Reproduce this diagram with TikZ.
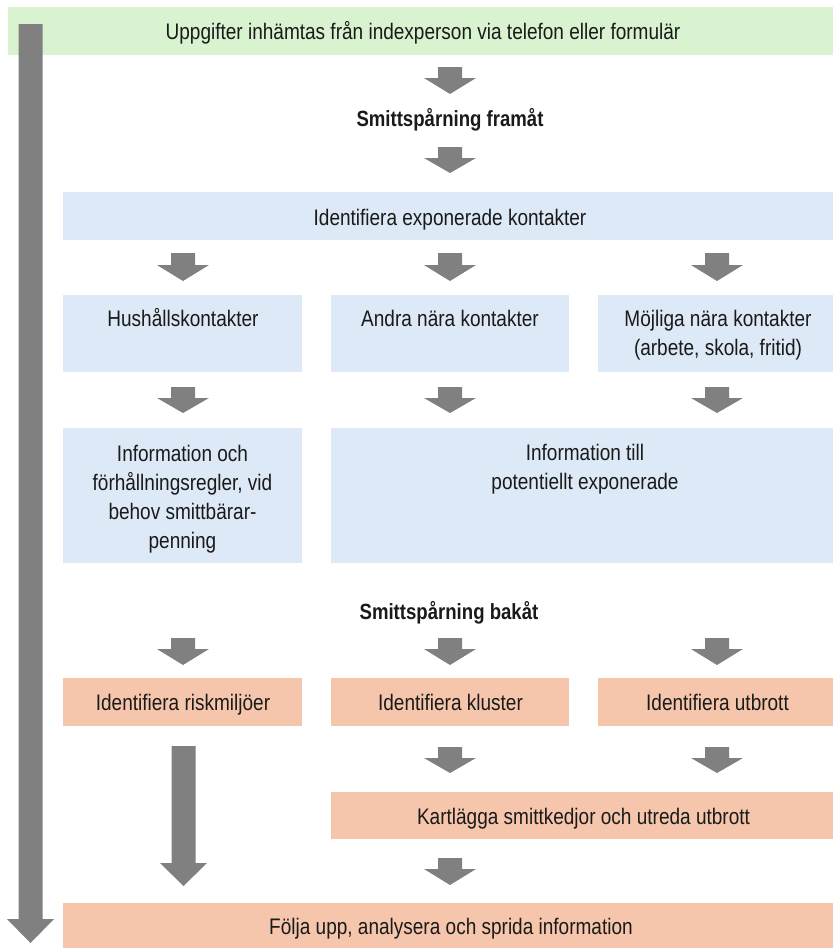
\documentclass[tikz,border=0pt]{standalone}
\usepackage{fontspec}
\setmainfont[FakeStretch=0.845]{Liberation Sans}
\definecolor{cgreen}{HTML}{D9F2D0}
\definecolor{cblue}{HTML}{DDE9F6}
\definecolor{corange}{HTML}{F6C6AC}
\definecolor{cgray}{HTML}{808080}
\definecolor{ctext}{HTML}{1A1A1A}
\newcommand\blockarr[6]{% name, cx, top, base, tip, half head width
  \fill[cgray] (#2-12,#3) -- (#2+12,#3) -- (#2+12,#4) -- (#2+#6,#4)
    -- (#2,#5) coordinate (#1) -- (#2-#6,#4) -- (#2-12,#4) -- cycle;}
\tikzset{
  bx/.style={rectangle, draw=none, inner sep=0pt, outer sep=0pt},
  gbox/.style={bx, fill=cgreen},
  bbox/.style={bx, fill=cblue},
  obox/.style={bx, fill=corange},
  txt/.style={inner sep=0pt, text=ctext, align=center,
    font=\fontsize{22.5}{29}\selectfont, anchor=base},
  mtxt/.style={txt, anchor=north},
  htxt/.style={txt, font=\fontsize{22}{29}\selectfont\bfseries},
}
\newcommand\fl{\rule{0pt}{17pt}}
\begin{document}
\begin{tikzpicture}[x=1pt,y=-1pt]
\useasboundingbox (0,0) rectangle (833,948);
\fill[white] (0,0) rectangle (833,948);
% boxes
\node[gbox, minimum width=825, minimum height=48] (top) at (420.5,31) {};
\node[bbox, minimum width=770, minimum height=48] (ident) at (448,216) {};
\node[bbox, minimum width=239, minimum height=77] (hus) at (182.5,333.5) {};
\node[bbox, minimum width=238, minimum height=77] (andra) at (450,333.5) {};
\node[bbox, minimum width=235, minimum height=77] (mojl) at (715.5,333.5) {};
\node[bbox, minimum width=239, minimum height=135] (infoA) at (182.5,495.5) {};
\node[bbox, minimum width=502, minimum height=135] (infoB) at (582,495.5) {};
\node[obox, minimum width=239, minimum height=48] (risk) at (182.5,702) {};
\node[obox, minimum width=238, minimum height=48] (klus) at (450,702) {};
\node[obox, minimum width=235, minimum height=48] (utbr) at (715.5,702) {};
\node[obox, minimum width=502, minimum height=47] (kart) at (582,815.5) {};
\node[obox, minimum width=770, minimum height=45] (folj) at (448,925.5) {};
% texts
\node[txt] (topT) at (423,39) {Uppgifter inhämtas från indexperson via telefon eller formulär};
\node[htxt] (fram) at (450,126) {Smittspårning framåt};
\node[txt] (identT) at (450,225) {Identifiera exponerade kontakter};
\node[txt] (husT) at (183,326) {Hushållskontakter};
\node[txt] (andraT) at (450,326) {Andra nära kontakter};
\node[mtxt] (mojlT) at (718,309) {\fl Möjliga nära kontakter\\(arbete, skola, fritid)};
\node[mtxt] (infoAT) at (182.5,444) {\fl Information och\\förhållningsregler, vid\\behov smittbärar-\\penning};
\node[mtxt] (infoBT) at (585,443) {\fl Information till\\potentiellt exponerade};
\node[htxt] (bak) at (449,619) {Smittspårning bakåt};
\node[txt] (riskT) at (183,710) {Identifiera riskmiljöer};
\node[txt] (klusT) at (450.5,710) {Identifiera kluster};
\node[txt] (utbrT) at (717.5,710) {Identifiera utbrott};
\node[txt] (kartT) at (583.5,824) {Kartlägga smittkedjor och utreda utbrott};
\node[txt] (foljT) at (451,934) {Följa upp, analysera och sprida information};
% block arrows
\blockarr{aL}{30.5}{24}{919}{943}{23.5}
\blockarr{a1}{450}{67}{78}{94}{26}
\blockarr{a2}{450}{147}{158}{173}{26}
\blockarr{a3}{183}{253}{265}{281}{26}
\blockarr{a4}{450}{253}{265}{281}{26}
\blockarr{a5}{717}{253}{265}{281}{26}
\blockarr{a6}{183}{387}{398}{413}{26}
\blockarr{a7}{450}{387}{398}{413}{26}
\blockarr{a8}{717}{387}{398}{413}{26}
\blockarr{a9}{183}{638}{649}{665}{26}
\blockarr{a10}{450}{638}{649}{665}{26}
\blockarr{a11}{717}{638}{649}{665}{26}
\blockarr{a12}{183.5}{746}{863}{886}{23.5}
\blockarr{a13}{450}{747}{758}{773}{26}
\blockarr{a14}{717}{747}{758}{773}{26}
\blockarr{a15}{450}{858}{869}{885}{26}
\end{tikzpicture}
\end{document}
